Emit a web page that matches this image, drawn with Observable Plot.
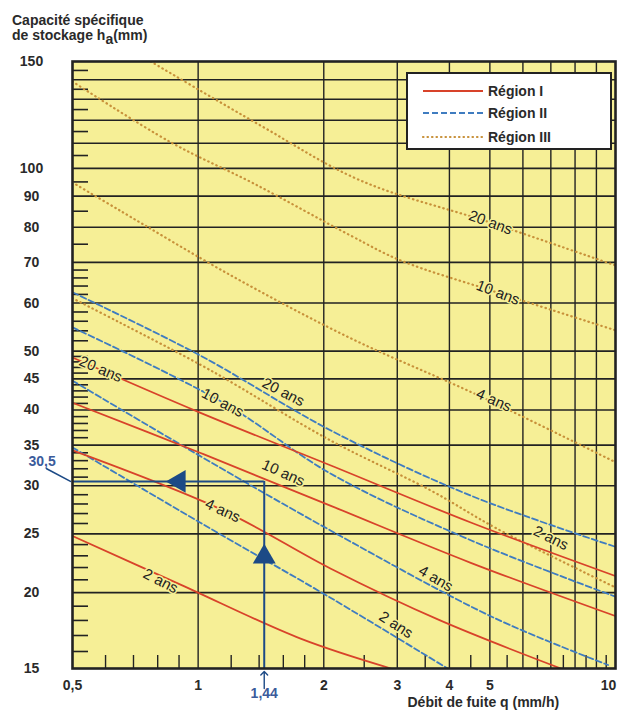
<!DOCTYPE html>
<html><head><meta charset="utf-8">
<script src="https://cdn.jsdelivr.net/npm/d3@7"></script>
<script src="https://cdn.jsdelivr.net/npm/@observablehq/plot@0.6"></script>
<style>
body{margin:0;background:#fff;font-family:"Liberation Sans",Arial,sans-serif;}
#wrap{position:relative;width:621px;height:722px;overflow:hidden;}
#title{position:absolute;left:12px;top:13px;font-size:14px;font-weight:bold;color:#2a2a2a;line-height:15px;white-space:nowrap;}
#title .sub{position:relative;top:4px;}
#legend{position:absolute;left:406px;top:72px;width:202px;height:74px;background:#fff;border:2px solid #222;}
</style></head><body>
<div id="wrap"><div id="chart"></div>
<div id="title">Capacité spécifique<br>de stockage h<span class="sub">a</span>(mm)</div>
<div id="legend"></div>
</div>
<script>
// ---- axes / ticks ----
const xDomain = [0.5, 10];
const yDomain = [15, 150];
const xTickValues = [0.5, 1, 2, 3, 4, 5, 10];
const yTickValues = [15, 20, 25, 30, 35, 40, 45, 50, 60, 70, 80, 90, 100, 150];
const xGridValues = [1, 2, 3, 4, 5, 6, 7, 8, 9];
const yGridValues = [20, 25, 30, 35, 40, 45, 50, 60, 70, 80, 90, 100, 110, 120, 130, 140];
const xMinorValues = [0.6, 0.7, 0.8, 0.9, 1.2, 1.4, 1.6, 1.8, 2.5, 3.5, 4.5, 5.5, 6.5, 7.5, 8.5, 9.5];
const yMinorValues = [16,17,18,19,21,22,23,24,26,27,28,29,31,32,33,34,36,37,38,39,41,42,43,44,46,47,48,49,52,54,56,58,62,64,66,68,75,85,95,105,115,125,135,145];

// ---- curves: [q (mm/h), ha (mm)] ----
const regionI_2ans   = [[0.5,24.8],[0.91,20.6],[1.76,16.8],[2.9,15]];
const regionI_4ans   = [[0.5,34.3],[1.15,27.3],[2.08,21.9],[3.8,18.0],[7.4,15]];
const regionI_10ans  = [[0.5,41.1],[1.01,34.0],[2.08,27.8],[4.5,22.4],[10,18.3]];
const regionI_20ans  = [[0.5,48.8],[1.01,39.6],[2.08,32.4],[4.5,26.1],[10,21.3]];
const regionII_2ans  = [[0.5,34.7],[1.01,26.1],[2.08,19.6],[3.96,15]];
const regionII_4ans  = [[0.5,44.7],[1.01,33.6],[2.08,25.3],[5.1,18.2],[9.6,15.2]];
const regionII_10ans = [[0.5,54.7],[1.15,41.1],[2.08,31.4],[4.5,24.4],[10,19.7]];
const regionII_20ans = [[0.5,62.5],[1.01,49.2],[2.08,37.0],[4.5,28.9],[10,23.8]];
const regionIII_2ans  = [[0.5,61.1],[0.65,55.7],[1.07,46.5],[2.08,35.6],[3.6,29.5],[5.2,25.5],[10,20.4]];
const regionIII_4ans  = [[0.5,94.8],[0.65,85.2],[1.2,66.6],[2.32,52.5],[4.68,42.3],[10,32.8]];
const regionIII_10ans = [[0.5,139],[0.86,110.4],[1.36,94.4],[2.32,77.5],[3.06,70.5],[5.23,62.4],[10,54.1]];
const regionIII_20ans = [[0.77,150],[1.41,117.7],[2.45,95.5],[5.02,81.4],[10,69.2]];

// curve labels (text, q, ha)
const labelTexts = ["20 ans","10 ans","4 ans","2 ans","20 ans","10 ans","4 ans","2 ans","2 ans","4 ans","10 ans","20 ans"];
const labelQ     = [0.584, 1.60, 1.145, 0.813, 1.60, 1.145, 3.71, 2.98, 7.0, 5.11, 5.23, 5.02];
const labelH     = [46.7, 31.5, 27.3, 20.9, 42.8, 41.1, 21.1, 17.7, 24.6, 41.5, 62.4, 81.4];
const labelAngle = [23, 24, 25, 27, 27, 28, 30, 33, 26, 24, 21, 20];

// worked example
const readQ = 1.44, readH = 30.5;
const arrowUpH = 22.9, arrowLeftQ = 0.9;

// ---- build ----
const rows = (region, period, pts) => pts.map(([q, h]) => ({region, period, q, h}));
const dataI = [...rows("I","2",regionI_2ans),...rows("I","4",regionI_4ans),...rows("I","10",regionI_10ans),...rows("I","20",regionI_20ans)];
const dataII = [...rows("II","2",regionII_2ans),...rows("II","4",regionII_4ans),...rows("II","10",regionII_10ans),...rows("II","20",regionII_20ans)];
const dataIII = [...rows("III","2",regionIII_2ans),...rows("III","4",regionIII_4ans),...rows("III","10",regionIII_10ans),...rows("III","20",regionIII_20ans)];
const labels = labelTexts.map((t, i) => ({t, q: labelQ[i], h: labelH[i], a: labelAngle[i]}));

const W = 621, H = 722, mL = 72, mR = 6, mT = 61, mB = 54;
const innerW = W - mL - mR, innerH = H - mT - mB;
const yellow = "#f6ef96", ink = "#222", red = "#d8432a", blue = "#3f7cc0", orange = "#c8913a";
const navy = "#1c4a86", blueText = "#3b5b9b";
const fmt = d => String(d).replace(".", ",");
const lineShape = {draw(ctx, l) { ctx.moveTo(0, 0); ctx.lineTo(0, -l); }};
const xMax = xDomain[1];

const chart = Plot.plot({
  width: W, height: H,
  marginLeft: mL, marginRight: mR, marginTop: mT, marginBottom: mB,
  style: {fontFamily: "Liberation Sans, Arial, sans-serif", fontSize: "14px", background: "transparent", color: "#2a2a2a"},
  x: {type: "log", domain: xDomain},
  y: {type: "log", domain: yDomain},
  marks: [
    Plot.frame({fill: yellow, stroke: null}),
    Plot.ruleY(yGridValues, {stroke: ink, strokeWidth: 1.6}),
    Plot.ruleX(xGridValues, {stroke: ink, strokeWidth: 1.4}),
    Plot.tickY(yMinorValues, {stroke: ink, strokeWidth: 1.6, insetRight: innerW - 16}),
    Plot.tickX(xMinorValues, {stroke: ink, strokeWidth: 1.4, insetTop: innerH - 13}),
    Plot.line(dataIII, {x: "q", y: "h", z: "period", stroke: orange, strokeWidth: 2.2, strokeDasharray: "0.5,4", strokeLinecap: "round", curve: "catmull-rom", clip: true}),
    Plot.line(dataII, {x: "q", y: "h", z: "period", stroke: blue, strokeWidth: 1.8, strokeDasharray: "6,3", curve: "catmull-rom", clip: true}),
    Plot.line(dataI, {x: "q", y: "h", z: "period", stroke: red, strokeWidth: 1.8, curve: "catmull-rom", clip: true}),
    Plot.text(labels, {x: "q", y: "h", text: "t", rotate: "a", fontSize: 15, fill: ink, stroke: yellow, strokeWidth: 3, paintOrder: "stroke"}),
    // worked example
    Plot.ruleX([readQ], {x: d => d, y1: () => yDomain[0], y2: () => readH, stroke: navy, strokeWidth: 2}),
    Plot.ruleY([readH], {y: d => d, x1: () => xDomain[0], x2: () => readQ, stroke: navy, strokeWidth: 2}),
    Plot.dot([readQ], {x: d => d, y: () => arrowUpH, symbol: "triangle", r: 8.5, fill: navy}),
    Plot.dot([readH], {x: () => arrowLeftQ, y: d => d, symbol: "triangle", r: 8.5, fill: navy, rotate: -90}),
    Plot.text([readQ], {x: d => d, frameAnchor: "bottom", dy: 29, text: d => fmt(d), fill: blueText, fontWeight: "bold"}),
    Plot.vector([readQ], {x: d => d, y: () => yDomain[0], dy: 20, length: 17, anchor: "start", stroke: navy, strokeWidth: 1.4, shape: "arrow"}),
    Plot.text([readH], {y: d => d, frameAnchor: "left", dx: -44, dy: -20, text: d => fmt(d), fill: blueText, fontWeight: "bold"}),
    Plot.vector([readH], {x: () => xDomain[0], y: d => d, dx: -2, length: 27, rotate: -62, anchor: "start", stroke: navy, strokeWidth: 1.6, shape: lineShape}),
    // axes
    Plot.axisX({ticks: xTickValues.filter(d => d < xMax), tickSize: 0, tickPadding: 12, tickFormat: fmt, fontWeight: "bold", fill: "#2a2a2a", label: null}),
    Plot.axisX({ticks: xTickValues.filter(d => d >= xMax), tickSize: 0, tickPadding: 12, dx: -7, tickFormat: fmt, fontWeight: "bold", fill: "#2a2a2a", label: null}),
    Plot.axisY({ticks: yTickValues, tickSize: 0, tickPadding: 41, textAnchor: "middle", tickFormat: d => String(d), fontWeight: "bold", fill: "#2a2a2a", label: null}),
    Plot.frame({stroke: ink, strokeWidth: 2.6}),
    Plot.text(["Débit de fuite q (mm/h)"], {frameAnchor: "bottom-right", textAnchor: "start", dx: 407 - (W - mR), dy: 38, fontWeight: "bold", fill: "#2a2a2a"})
  ]
});
document.getElementById("chart").append(chart);

// legend
const legendItems = ["Région I", "Région II", "Région III"];
const legendStrokes = [red, blue, orange];
const legendDash = [null, "6,3", "0.5,4"];
const lg = d3.select("#legend").append("svg").attr("width", 202).attr("height", 74);
legendItems.forEach((name, i) => {
  const y = [17, 39, 63][i];
  lg.append("line").attr("x1", 15).attr("x2", 75).attr("y1", y).attr("y2", y)
    .attr("stroke", legendStrokes[i]).attr("stroke-width", i === 2 ? 2.2 : 2)
    .attr("stroke-dasharray", legendDash[i]).attr("stroke-linecap", i === 2 ? "round" : "butt");
  lg.append("text").attr("x", 80).attr("y", y).attr("dy", "0.35em")
    .attr("font-family", "Liberation Sans, Arial, sans-serif").attr("font-size", 14)
    .attr("font-weight", "bold").attr("fill", "#2a2a2a").text(name);
});
</script>
</body></html>
